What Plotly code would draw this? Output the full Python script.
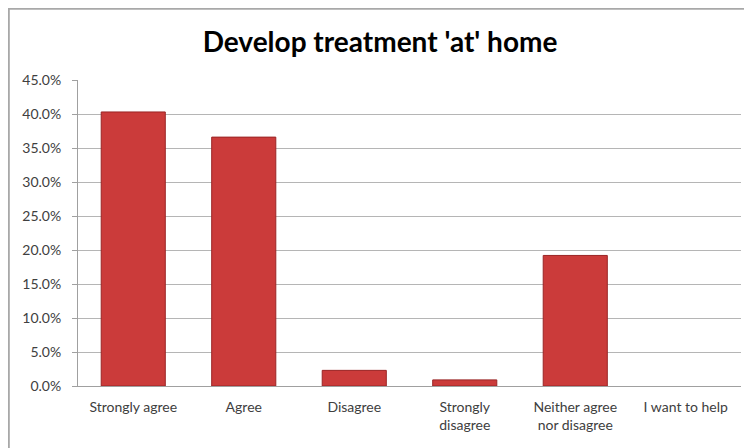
import plotly.graph_objects as go

categories = ["Strongly agree", "Agree", "Disagree", "Strongly<br>disagree",
              "Neither agree<br>nor disagree", "I want to help"]
values = [0.403, 0.366, 0.023, 0.009, 0.192, 0.0]
tick_vals = [0, 0.05, 0.10, 0.15, 0.20, 0.25, 0.30, 0.35, 0.40, 0.45]
tick_text = ["0.0%", "5.0%", "10.0%", "15.0%", "20.0%", "25.0%", "30.0%", "35.0%", "40.0%", "45.0%"]

line_widths = [1 if v > 0 else 0 for v in values]

fig = go.Figure(go.Bar(
    x=categories, y=values,
    marker=dict(color="#CB3B3A", line=dict(color="#9A2525", width=line_widths)),
    width=0.58,
))

W, H = 744, 440
L, R, T, B = 70, 11, 72, 62
pw, ph = W - L - R, H - T - B

fig.update_layout(
    width=W, height=H,
    margin=dict(l=L, r=R, t=T, b=B),
    paper_bgcolor="white", plot_bgcolor="white",
    title=dict(text="<b>Develop treatment 'at' home</b>", x=0.5, xanchor="center",
               y=1 - 34 / H, yanchor="middle",
               font=dict(family="Lato, Open Sans, sans-serif", size=28, color="#000000")),
    font=dict(family="Lato, Open Sans, sans-serif", size=14, color="#404040"),
    showlegend=False,
    shapes=[
        dict(type="line", xref="paper", yref="paper",
             x0=-(L - 0.8) / pw, x1=-(L - 0.8) / pw, y0=-B / ph, y1=1 + T / ph,
             line=dict(color="#A8A8A8", width=2)),
        dict(type="line", xref="paper", yref="paper",
             x0=-L / pw, x1=1 + R / pw, y0=1 + (T - 0.8) / ph, y1=1 + (T - 0.8) / ph,
             line=dict(color="#A8A8A8", width=2)),
    ],
)
fig.update_yaxes(range=[0, 0.45], tickvals=tick_vals, ticktext=tick_text,
                 showgrid=True, gridcolor="#B5B5B5", gridwidth=1,
                 showline=True, linecolor="#A0A0A0", ticks="outside", ticklen=5,
                 tickcolor="#A0A0A0", zeroline=False, ticklabelstandoff=8)
fig.update_xaxes(showline=True, linecolor="#A0A0A0", ticks="", tickangle=0,
                 ticklabelstandoff=8)

fig.write_html("out.html")
